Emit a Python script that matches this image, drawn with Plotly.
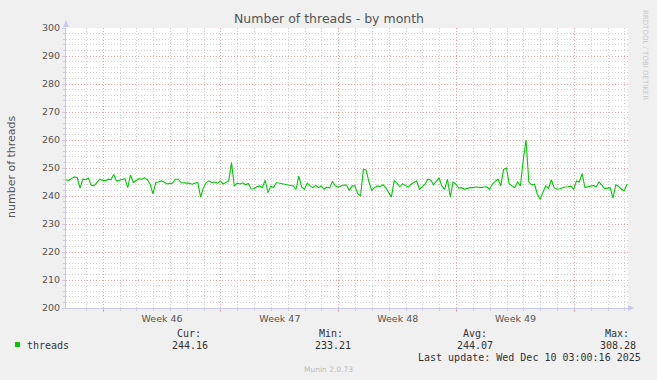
import pandas as pd
import plotly.graph_objects as go

# ---------------- data ----------------
start_time = "2025-11-07 19:00"
sample_hours = 4
threads = [
    # week 45/46 region
    245.7, 245.6, 246.3, 246.8, 246.5, 242.8, 246.0, 245.8, 246.3, 243.8,
    243.6, 245.0, 246.0, 245.6, 245.4, 246.0, 245.8, 247.7, 245.4, 245.6,
    245.8, 246.2, 243.0, 247.5, 244.8, 245.6, 246.2, 246.0, 246.5, 245.8,
    244.2, 240.8, 244.8, 245.0,
    245.4, 245.0, 244.3, 244.5, 244.6, 246.0, 246.0, 244.8, 244.8, 244.6,
    244.5, 244.2, 244.6, 244.8, 239.6, 243.0, 244.8, 245.4, 244.8, 245.0,
    244.6, 245.4, 244.3, 244.8, 245.4, 251.9, 243.5, 244.6, 244.3, 244.7,
    244.0, 244.5, 242.5, 242.6,
    243.3, 243.6, 243.0, 245.6, 241.2, 243.5, 243.0, 244.8, 244.6, 244.6,
    244.4, 244.0, 243.9, 243.6, 242.4, 247.1, 243.2, 242.4, 244.6, 243.6,
    243.0, 243.8, 243.0, 243.6, 242.4, 243.2, 242.8, 245.3, 243.6, 243.2,
    243.6, 243.9, 243.9, 242.0, 243.6,
    243.6, 240.8, 240.0, 249.5, 249.3, 245.0, 242.0, 243.0, 243.6, 243.4,
    244.0, 243.0, 241.0, 239.6, 245.4, 244.6, 243.3, 244.4, 243.7, 243.2,
    244.2, 244.9, 245.4, 242.4, 243.5, 244.2, 246.0, 245.7, 244.0, 245.4,
    246.5, 243.6, 242.4, 246.0,
    239.6, 245.0, 244.2, 242.8, 243.0, 242.4, 242.8, 243.0, 243.0, 243.2,
    243.1, 243.0, 243.2, 243.3, 242.4, 244.2, 245.2, 246.0, 243.6, 249.5,
    250.0, 244.4, 243.6, 243.0, 245.0, 243.6, 252.8, 260.0, 245.0, 244.0,
    244.2, 240.8, 238.8, 241.5,
    243.6, 242.7, 245.8, 243.0, 242.4, 242.6, 243.0, 243.2, 243.3, 243.5,
    242.4, 245.4, 245.0, 248.0, 243.0, 243.2, 243.4, 243.8, 243.2, 245.0,
    243.9, 242.6, 242.8, 243.0, 239.2, 244.0, 243.5, 242.4, 241.8, 244.3,
]
week_labels = ["Week 46", "Week 47", "Week 48", "Week 49"]
week_starts = ["2025-11-10", "2025-11-17", "2025-11-24", "2025-12-01", "2025-12-08"]
y_ticks = [200, 210, 220, 230, 240, 250, 260, 270, 280, 290, 300]
series_name = "threads"
stat_labels = ["Cur:", "Min:", "Avg:", "Max:"]
stat_values = ["244.16", "233.21", "244.07", "308.28"]
last_update = "Last update: Wed Dec 10 03:00:16 2025"

# ---------------- derived ----------------
times = pd.date_range(start=start_time, periods=len(threads), freq=f"{sample_hours}h")
t0 = pd.Timestamp(start_time)
x_range = [t0, t0 + pd.Timedelta(hours=801.4)]
week_mid = [pd.Timestamp(d) + pd.Timedelta(hours=84) for d in week_starts[:-1]]
day_lines = pd.date_range("2025-11-09", "2025-12-11", freq="D")

# pixel helpers for the plot area (left 66, right 628, top 28, bottom 308)
L, R, T, B = 66, 628, 28, 308
def pxx(x):
    return (x - L) / (R - L)
def pxy(y):
    return (B - y) / (B - T)

GREEN = "#00cc00"
AXIS = "#c8c8f0"
GRAY_GRID = "#d2d2d2"
RED_GRID = "#f0a4a4"
TXT = "#555555"
DOT = "1px,2px"

fig = go.Figure()
fig.add_trace(go.Scatter(x=times, y=threads, mode="lines", name=series_name,
                         line=dict(color=GREEN, width=1.1), hoverinfo="skip",
                         showlegend=False))
# invisible helper traces so overlay axes are present
fig.add_trace(go.Scatter(x=[x_range[0]], y=[None], xaxis="x2", showlegend=False, hoverinfo="skip"))
fig.add_trace(go.Scatter(x=[x_range[0]], y=[None], xaxis="x3", showlegend=False, hoverinfo="skip"))

fig.update_layout(
    width=657, height=380, autosize=False,
    margin=dict(l=L, r=657 - R, t=T, b=380 - B),
    paper_bgcolor="#f0f0f0", plot_bgcolor="#ffffff",
    font=dict(family="DejaVu Sans", color=TXT),
    xaxis=dict(type="date", range=x_range, tickmode="array",
               tickvals=week_mid, ticktext=week_labels, showgrid=False,
               zeroline=False, showline=True, linecolor=AXIS, linewidth=1,
               ticks="outside", ticklen=2, tickcolor="rgba(0,0,0,0)",
               tickfont=dict(size=9.5, color=TXT, family="DejaVu Sans")),
    xaxis2=dict(type="date", range=x_range, overlaying="x", anchor="y",
                tickmode="array", tickvals=list(day_lines), showticklabels=False,
                showgrid=True, gridcolor=GRAY_GRID, griddash=DOT, gridwidth=1,
                ticks="outside", ticklen=2, tickcolor=GRAY_GRID, zeroline=False,
                showline=False),
    xaxis3=dict(type="date", range=x_range, overlaying="x", anchor="y",
                tickmode="array", tickvals=week_starts, showticklabels=False,
                showgrid=True, gridcolor=RED_GRID, griddash=DOT, gridwidth=1,
                ticks="outside", ticklen=3, tickcolor=RED_GRID, zeroline=False,
                showline=False),
    yaxis=dict(range=[200, 300], tickmode="array", tickvals=y_ticks,
               showgrid=True, gridcolor=RED_GRID, griddash=DOT, gridwidth=1,
               zeroline=False, showline=True, linecolor=AXIS, linewidth=1,
               ticks="outside", ticklen=3, tickcolor=AXIS,
               tickfont=dict(size=9.5, color=TXT, family="DejaVu Sans"),
               minor=dict(dtick=2, showgrid=True, gridcolor=GRAY_GRID,
                          griddash=DOT, ticks="outside", ticklen=2, tickcolor=AXIS)),
)

ann = []
ann.append(dict(text="Number of threads - by month", x=pxx(328.5), y=pxy(18.5),
                xanchor="center", yanchor="middle",
                font=dict(size=12.5, color=TXT, family="DejaVu Sans")))
ann.append(dict(text="number of threads", x=pxx(11), y=pxy(167), textangle=-90,
                xanchor="center", yanchor="middle",
                font=dict(size=11, color=TXT, family="DejaVu Sans")))
ann.append(dict(text="RRDTOOL / TOBI OETIKER", x=pxx(645), y=pxy(55), textangle=90,
                xanchor="center", yanchor="middle",
                font=dict(size=7, color="#c8c8c8", family="DejaVu Sans")))
mono = dict(size=10, color="#333333", family="DejaVu Sans Mono")
label_right = [203, 345, 489, 631]
value_right = [210, 353, 495, 638]
for lab, val, lr, vr in zip(stat_labels, stat_values, label_right, value_right):
    ann.append(dict(text=lab, x=pxx(lr), y=pxy(333), xanchor="right", yanchor="middle", font=mono))
    ann.append(dict(text=val, x=pxx(vr), y=pxy(345), xanchor="right", yanchor="middle", font=mono))
ann.append(dict(text=series_name, x=pxx(25), y=pxy(345), xanchor="left", yanchor="middle", font=mono))
ann.append(dict(text=last_update.replace(" ", "&nbsp;"), x=pxx(643), y=pxy(357),
                xanchor="right", yanchor="middle", font=mono))
ann.append(dict(text="Munin 2.0.73", x=pxx(328), y=pxy(369), xanchor="center", yanchor="middle",
                font=dict(size=7.5, color="#bbbbbb", family="DejaVu Sans")))
for a in ann:
    a.update(xref="paper", yref="paper", showarrow=False)
fig.update_layout(annotations=ann)

# legend swatch and axis arrow heads
shapes = [
    dict(type="rect", xref="paper", yref="paper", x0=pxx(15), x1=pxx(20), y0=pxy(347), y1=pxy(342),
         fillcolor=GREEN, line=dict(width=0)),
    dict(type="path", xref="paper", yref="paper",
         path=f"M {pxx(63)},{pxy(27)} L {pxx(69)},{pxy(27)} L {pxx(66)},{pxy(20)} Z",
         fillcolor=AXIS, line=dict(width=0)),
    dict(type="path", xref="paper", yref="paper",
         path=f"M {pxx(628)},{pxy(305)} L {pxx(628)},{pxy(311)} L {pxx(634)},{pxy(308)} Z",
         fillcolor=AXIS, line=dict(width=0)),
]
fig.update_layout(shapes=shapes)

fig.write_html("out.html")
